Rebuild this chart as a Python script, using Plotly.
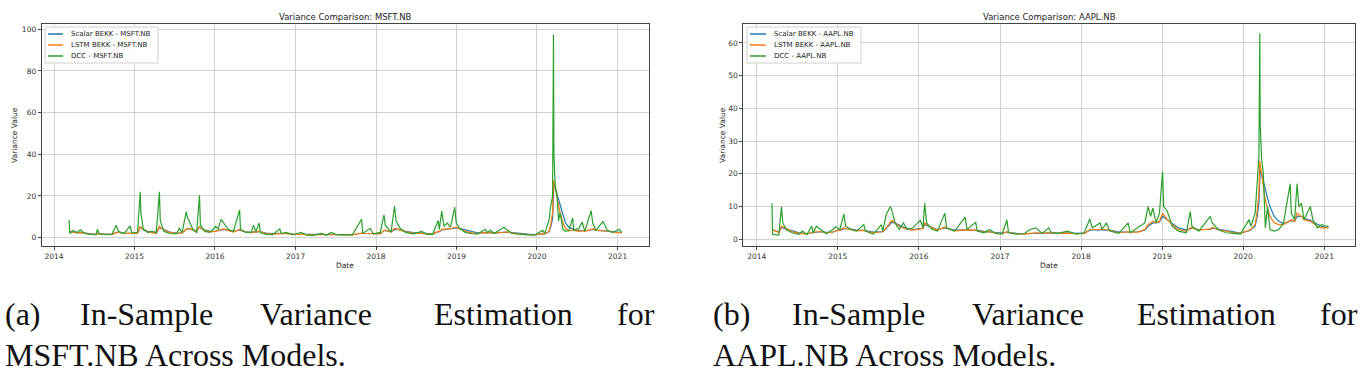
import plotly.graph_objects as go

# ---------------- data: MSFT.NB ----------------
dates_msft = [
    "2014-03-10", "2014-03-14", "2014-03-28", "2014-04-15", "2014-05-01", "2014-05-20", "2014-06-15",
    "2014-07-10", "2014-07-17", "2014-07-25", "2014-08-20", "2014-09-20", "2014-10-10", "2014-10-20",
    "2014-11-15", "2014-12-12", "2014-12-20", "2015-01-15", "2015-01-27", "2015-01-30", "2015-02-10",
    "2015-03-01", "2015-03-20", "2015-04-10", "2015-04-24", "2015-04-28", "2015-05-15", "2015-06-10",
    "2015-07-10", "2015-07-24", "2015-08-05", "2015-08-24", "2015-08-28", "2015-09-10", "2015-09-25",
    "2015-10-10", "2015-10-23", "2015-10-27", "2015-11-15", "2015-12-10", "2016-01-05", "2016-01-15",
    "2016-01-29", "2016-02-10", "2016-03-01", "2016-03-25", "2016-04-22", "2016-04-26", "2016-05-20",
    "2016-06-15", "2016-06-24", "2016-07-05", "2016-07-20", "2016-07-25", "2016-08-20", "2016-09-20",
    "2016-10-21", "2016-10-28", "2016-11-20", "2016-12-20", "2017-01-27", "2017-02-20", "2017-03-20",
    "2017-04-28", "2017-05-20", "2017-06-12", "2017-07-10", "2017-08-10", "2017-09-15", "2017-10-27",
    "2017-11-02", "2017-12-05", "2017-12-20", "2018-01-20", "2018-02-06", "2018-02-12", "2018-03-10",
    "2018-03-26", "2018-04-02", "2018-04-20", "2018-05-15", "2018-06-20", "2018-07-27", "2018-08-20",
    "2018-09-15", "2018-10-10", "2018-10-15", "2018-10-26", "2018-11-05", "2018-11-20", "2018-12-05",
    "2018-12-24", "2018-12-31", "2019-01-15", "2019-02-10", "2019-03-10", "2019-04-05", "2019-05-13",
    "2019-05-20", "2019-06-05", "2019-06-20", "2019-08-05", "2019-08-15", "2019-09-10", "2019-10-10",
    "2019-11-20", "2019-12-20", "2020-01-27", "2020-02-05", "2020-02-24", "2020-03-03", "2020-03-12",
    "2020-03-16", "2020-03-18", "2020-03-24", "2020-04-01", "2020-04-08", "2020-04-15", "2020-04-28",
    "2020-05-10", "2020-05-25", "2020-06-11", "2020-06-16", "2020-07-10", "2020-07-24", "2020-08-05",
    "2020-09-03", "2020-09-10", "2020-09-25", "2020-10-26", "2020-10-30", "2020-11-15", "2020-12-10",
    "2021-01-08", "2021-01-20",
]
dcc_msft = [
    8.5, 2.0, 3.5, 2.5, 3.8, 2.0, 1.6,
    1.4, 4.0, 1.8, 1.4, 1.6, 6.0, 3.0,
    2.0, 5.6, 2.2, 2.6, 22.0, 12.0, 4.0,
    2.5, 3.0, 2.5, 22.0, 8.0, 3.0, 2.0,
    1.8, 4.5, 2.5, 12.5, 10.0, 7.0, 3.5,
    2.5, 20.5, 6.0, 3.0, 2.5, 5.5, 4.0,
    8.8, 7.0, 4.0, 3.0, 13.3, 4.0, 2.5,
    2.6, 6.0, 3.0, 7.0, 2.5, 1.6, 1.5,
    4.2, 2.0, 2.5, 1.4, 2.5, 1.2, 1.1,
    2.0, 1.1, 2.5, 1.3, 1.5, 1.2, 8.8,
    2.0, 4.5, 1.8, 2.5, 10.9, 6.0, 2.5,
    15.2, 8.0, 4.5, 2.5, 1.8, 3.0, 1.6,
    1.6, 8.2, 4.0, 12.8, 5.5, 7.0, 5.0,
    14.6, 7.0, 4.5, 2.5, 2.0, 1.7, 4.0,
    2.5, 3.5, 2.0, 5.0, 4.0, 2.0, 1.6,
    1.3, 1.2, 3.5, 2.0, 8.0, 15.0, 20.0,
    97.5, 40.0, 25.0, 20.0, 8.0, 12.0, 4.0,
    3.0, 3.5, 9.5, 3.5, 4.5, 7.5, 3.0,
    13.0, 7.0, 3.5, 7.7, 7.0, 3.5, 2.5,
    4.0, 2.5,
]
lstm_msft = [
    3.0, 2.8, 2.6, 2.3, 2.4, 2.0, 1.7,
    1.5, 2.0, 1.8, 1.5, 1.5, 2.5, 2.6,
    2.0, 2.4, 2.2, 2.1, 5.5, 5.0, 3.8,
    2.8, 2.3, 2.1, 5.5, 5.0, 3.5, 2.5,
    2.0, 2.3, 2.2, 4.0, 4.5, 4.3, 3.5,
    3.0, 5.5, 4.8, 3.5, 2.8, 3.0, 3.5,
    4.0, 4.2, 3.5, 2.7, 4.0, 3.6, 2.7,
    2.3, 2.8, 2.7, 3.0, 2.8, 2.0, 1.7,
    2.0, 1.9, 1.9, 1.6, 1.6, 1.4, 1.3,
    1.4, 1.3, 1.5, 1.4, 1.4, 1.3, 2.2,
    2.0, 2.0, 1.8, 1.8, 3.5, 3.6, 2.8,
    4.5, 4.4, 3.6, 2.8, 2.2, 2.1, 1.8,
    1.7, 3.0, 3.0, 4.0, 4.0, 4.2, 4.3,
    5.0, 5.0, 4.2, 3.0, 2.4, 2.0, 2.4,
    2.4, 2.5, 2.2, 2.6, 2.8, 2.3, 1.8,
    1.5, 1.4, 1.8, 1.8, 3.0, 6.0, 12.0,
    27.5, 27.0, 24.0, 19.0, 15.0, 12.0, 7.0,
    4.5, 3.2, 3.8, 3.5, 3.0, 3.3, 3.0,
    4.0, 4.2, 3.5, 3.3, 3.6, 3.2, 2.6,
    2.4, 2.3,
]
scalar_msft = [
    3.0, 2.9, 2.7, 2.4, 2.5, 2.1, 1.8,
    1.6, 2.0, 1.8, 1.6, 1.6, 2.4, 2.6,
    2.1, 2.3, 2.3, 2.2, 5.0, 4.8, 3.9,
    3.0, 2.5, 2.3, 4.8, 4.6, 3.6, 2.7,
    2.2, 2.3, 2.3, 4.0, 4.3, 4.2, 3.6,
    3.2, 5.0, 4.6, 3.7, 3.0, 3.1, 3.4,
    3.8, 4.0, 3.5, 2.9, 3.8, 3.5, 2.8,
    2.5, 2.8, 2.7, 3.0, 2.8, 2.2, 1.9,
    2.1, 2.0, 2.0, 1.7, 1.7, 1.5, 1.4,
    1.5, 1.4, 1.6, 1.5, 1.5, 1.4, 2.1,
    2.0, 2.0, 1.9, 1.9, 3.3, 3.4, 2.9,
    4.0, 4.2, 3.7, 3.0, 2.4, 2.2, 1.9,
    1.8, 2.8, 2.9, 3.7, 3.8, 4.0, 4.2,
    4.6, 4.8, 4.4, 3.4, 2.7, 2.3, 2.4,
    2.5, 2.5, 2.3, 2.5, 2.7, 2.4, 2.0,
    1.7, 1.5, 1.8, 1.8, 2.8, 5.0, 9.0,
    22.0, 25.0, 24.0, 21.0, 18.0, 15.0, 11.0,
    7.0, 5.0, 4.2, 4.0, 3.5, 3.4, 3.2,
    3.8, 4.0, 3.6, 3.2, 3.4, 3.3, 2.8,
    2.5, 2.4,
]

# ---------------- data: AAPL.NB ----------------
dates_aapl = [
    "2014-03-10", "2014-03-13", "2014-03-25", "2014-04-10", "2014-04-22", "2014-04-28", "2014-05-15",
    "2014-06-10", "2014-07-10", "2014-07-25", "2014-08-15", "2014-09-05", "2014-09-12", "2014-09-26",
    "2014-10-15", "2014-11-10", "2014-12-10", "2014-12-22", "2015-01-10", "2015-01-28", "2015-02-05",
    "2015-03-01", "2015-03-25", "2015-04-28", "2015-05-05", "2015-06-10", "2015-07-16", "2015-07-22",
    "2015-08-07", "2015-08-25", "2015-09-01", "2015-09-15", "2015-10-05", "2015-10-23", "2015-11-10",
    "2015-12-05", "2016-01-07", "2016-01-20", "2016-01-27", "2016-02-05", "2016-03-01", "2016-03-25",
    "2016-04-27", "2016-05-05", "2016-06-10", "2016-07-27", "2016-08-05", "2016-09-13", "2016-09-20",
    "2016-10-20", "2016-11-14", "2016-12-10", "2017-01-10", "2017-02-01", "2017-02-08", "2017-03-15",
    "2017-04-20", "2017-05-15", "2017-06-12", "2017-07-10", "2017-08-08", "2017-08-20", "2017-09-20",
    "2017-10-31", "2017-12-10", "2018-01-15", "2018-02-09", "2018-02-20", "2018-03-28", "2018-04-05",
    "2018-04-25", "2018-05-10", "2018-06-20", "2018-08-01", "2018-08-10", "2018-09-15", "2018-10-15",
    "2018-10-30", "2018-11-10", "2018-11-20", "2018-12-05", "2018-12-20", "2019-01-03", "2019-01-08",
    "2019-01-25", "2019-02-15", "2019-03-15", "2019-04-20", "2019-05-08", "2019-05-15", "2019-06-15",
    "2019-08-06", "2019-08-15", "2019-09-10", "2019-10-15", "2019-11-20", "2019-12-20", "2020-01-28",
    "2020-02-05", "2020-02-24", "2020-03-03", "2020-03-12", "2020-03-16", "2020-03-18", "2020-03-24",
    "2020-04-01", "2020-04-10", "2020-04-20", "2020-05-01", "2020-05-20", "2020-06-10", "2020-07-01",
    "2020-07-31", "2020-08-05", "2020-08-20", "2020-08-31", "2020-09-08", "2020-09-20", "2020-10-01",
    "2020-10-30", "2020-11-10", "2020-12-01", "2020-12-20", "2021-01-08", "2021-01-20",
]
dcc_aapl = [
    11.0, 1.5, 1.4, 1.3, 10.0, 5.0, 2.8,
    2.0, 1.5, 2.5, 1.5, 4.0, 2.0, 4.0,
    3.0, 1.7, 3.0, 3.8, 3.0, 7.7, 4.0,
    3.0, 2.5, 4.5, 2.5, 1.6, 4.5, 2.5,
    7.5, 10.0, 9.0, 5.0, 3.0, 5.0, 3.0,
    3.5, 5.8, 3.5, 11.0, 5.0, 3.0, 2.5,
    8.0, 3.5, 2.5, 6.8, 3.0, 5.2, 2.5,
    2.0, 3.0, 1.8, 1.6, 5.9, 2.0, 1.6,
    1.7, 3.0, 3.5, 1.8, 3.5, 2.0, 1.8,
    2.5, 1.6, 2.0, 6.2, 3.5, 5.0, 3.0,
    5.0, 2.5, 1.8, 5.0, 2.0, 3.5, 5.0,
    10.0, 7.0, 9.5, 5.0, 8.0, 20.7, 10.0,
    8.5, 4.0, 2.5, 2.0, 8.5, 4.0, 2.5,
    7.0, 5.0, 3.0, 2.0, 1.8, 1.6, 6.0,
    4.0, 8.0, 18.0, 25.0, 63.0, 35.0, 25.0,
    20.0, 3.5, 10.0, 3.0, 2.5, 3.0, 5.0,
    17.0, 8.0, 6.0, 17.0, 10.0, 11.0, 6.0,
    10.0, 6.0, 3.5, 4.5, 4.0, 4.0,
]
lstm_aapl = [
    3.2, 2.9, 2.5, 2.1, 4.0, 3.8, 3.0,
    2.3, 1.8, 1.8, 1.6, 2.0, 2.0, 2.3,
    2.3, 2.0, 2.2, 2.6, 2.8, 3.5, 3.4,
    3.0, 2.6, 2.7, 2.5, 2.0, 2.3, 2.3,
    3.5, 5.0, 5.8, 5.0, 4.0, 3.5, 3.0,
    2.8, 3.3, 3.3, 5.0, 4.5, 3.5, 2.8,
    3.8, 3.4, 2.6, 3.0, 2.9, 2.8, 2.6,
    2.2, 2.3, 2.0, 1.7, 2.3, 2.1, 1.7,
    1.6, 1.8, 2.0, 1.8, 2.0, 2.0, 1.8,
    1.9, 1.7, 1.7, 3.0, 3.0, 3.0, 2.8,
    3.0, 2.7, 2.0, 2.3, 2.2, 2.2, 3.0,
    4.5, 5.0, 5.5, 5.0, 5.5, 8.0, 7.5,
    6.0, 4.5, 3.0, 2.4, 3.5, 3.5, 2.8,
    3.2, 3.6, 3.0, 2.4, 2.0, 1.8, 2.8,
    3.0, 4.5, 8.0, 14.0, 24.0, 23.0, 20.0,
    16.0, 12.0, 9.5, 7.0, 5.0, 4.5, 4.5,
    6.0, 6.0, 5.5, 8.0, 7.5, 7.0, 6.0,
    5.5, 5.0, 4.0, 3.5, 3.5, 3.5,
]
scalar_aapl = [
    3.0, 2.9, 2.6, 2.3, 3.5, 3.5, 3.1,
    2.5, 2.0, 1.9, 1.7, 2.0, 2.0, 2.2,
    2.3, 2.1, 2.2, 2.6, 2.8, 3.3, 3.3,
    3.1, 2.8, 2.7, 2.6, 2.2, 2.3, 2.3,
    3.3, 4.5, 5.2, 5.0, 4.2, 3.7, 3.3,
    3.0, 3.3, 3.3, 4.5, 4.3, 3.7, 3.0,
    3.5, 3.4, 2.8, 2.9, 2.9, 2.8, 2.7,
    2.4, 2.3, 2.1, 1.9, 2.2, 2.1, 1.8,
    1.7, 1.8, 2.0, 1.9, 2.0, 2.0, 1.9,
    1.9, 1.8, 1.8, 2.8, 2.9, 2.9, 2.9,
    2.9, 2.8, 2.2, 2.3, 2.3, 2.3, 2.8,
    4.0, 4.5, 5.0, 5.0, 5.3, 7.0, 6.8,
    6.0, 4.8, 3.5, 2.8, 3.3, 3.4, 3.0,
    3.0, 3.4, 3.1, 2.6, 2.2, 1.9, 2.6,
    2.9, 4.0, 6.5, 11.0, 19.0, 21.0, 20.0,
    17.5, 15.0, 12.5, 10.0, 7.0, 5.5, 4.8,
    5.5, 5.7, 5.5, 7.0, 7.0, 7.0, 6.3,
    5.8, 5.3, 4.5, 4.0, 3.6, 3.6,
]

years = ["2014", "2015", "2016", "2017", "2018", "2019", "2020", "2021"]
tick_dates = [y + "-01-01" for y in years]
model_names = ["Scalar BEKK", "LSTM BEKK", "DCC"]

W, H = 1362, 375
COLORS = ["#1f77b4", "#ff7f0e", "#2ca02c"]


def px(x):
    return x / W


def py(y):
    return 1 - y / H


fig = go.Figure()

panels = [
    dict(ticker="MSFT.NB", dates=dates_msft, series=[scalar_msft, lstm_msft, dcc_msft],
         xa="x", ya="y", leg_box=(45, 27, 158, 63), leg_line=(48, 63), leg_text=69),
    dict(ticker="AAPL.NB", dates=dates_aapl, series=[scalar_aapl, lstm_aapl, dcc_aapl],
         xa="x2", ya="y2", leg_box=(747, 27, 861, 63), leg_line=(750, 766), leg_text=772),
]

for p in panels:
    for name, vals, col in zip(model_names, p["series"], COLORS):
        fig.add_trace(go.Scatter(
            x=p["dates"], y=vals, mode="lines", name=f"{name} - {p['ticker']}",
            line=dict(color=col, width=1.2), xaxis=p["xa"], yaxis=p["ya"], showlegend=False,
        ))

axis_common = dict(
    showline=True, mirror=True, linecolor="#444444", linewidth=1,
    ticks="outside", ticklen=3, tickcolor="#444444", tickwidth=1,
    showgrid=True, gridcolor="#d3d3d3", gridwidth=1, zeroline=False,
    tickfont=dict(family="DejaVu Sans", size=7.5, color="#333333"),
)

left_dom = [px(41.7), px(648.7)]
right_dom = [px(743.3), px(1355)]
ydom = [py(246), py(24)]

fig.update_layout(
    width=W, height=H, margin=dict(l=0, r=0, t=0, b=0),
    paper_bgcolor="white", plot_bgcolor="white", showlegend=False,
    xaxis=dict(domain=left_dom, anchor="y", type="date",
               range=["2013-11-06", "2021-05-22"], tickvals=tick_dates, ticktext=years, **axis_common),
    yaxis=dict(domain=ydom, anchor="x", range=[-4.0, 102.5], dtick=20, tick0=0, **axis_common),
    xaxis2=dict(domain=right_dom, anchor="y2", type="date",
                range=["2013-11-01", "2021-05-19"], tickvals=tick_dates, ticktext=years, **axis_common),
    yaxis2=dict(domain=ydom, anchor="x2", range=[-2.05, 65.8], dtick=10, tick0=0, **axis_common),
)

small = dict(family="DejaVu Sans", color="#222222")
annots = []
shapes = []
for dom, p, ylab_x in [(left_dom, panels[0], 14), (right_dom, panels[1], 722)]:
    cx = (dom[0] + dom[1]) / 2
    annots.append(dict(text=f"Variance Comparison: {p['ticker']}", x=cx, y=py(16.5),
                       xref="paper", yref="paper", showarrow=False, xanchor="center", yanchor="middle",
                       font=dict(size=8.5, **small)))
    annots.append(dict(text="Date", x=cx, y=py(265), xref="paper", yref="paper", showarrow=False,
                       xanchor="center", yanchor="middle", font=dict(size=7.5, **small)))
    annots.append(dict(text="Variance Value", x=px(ylab_x), y=py(135), xref="paper", yref="paper",
                       showarrow=False, textangle=-90, xanchor="center", yanchor="middle",
                       font=dict(size=7.5, **small)))
    # legend (matplotlib style)
    x0, y0, x1, y1 = p["leg_box"]
    shapes.append(dict(type="rect", xref="paper", yref="paper", x0=px(x0), x1=px(x1),
                       y0=py(y1), y1=py(y0), line=dict(color="#d0d0d0", width=1),
                       fillcolor="rgba(255,255,255,0.85)", layer="above"))
    for i, (name, col) in enumerate(zip(model_names, COLORS)):
        yy = y0 + 7 + 11 * i
        lx0, lx1 = p["leg_line"]
        shapes.append(dict(type="line", xref="paper", yref="paper", x0=px(lx0), x1=px(lx1),
                           y0=py(yy), y1=py(yy), line=dict(color=col, width=1.5), layer="above"))
        annots.append(dict(text=f"{name} - {p['ticker']}", x=px(p["leg_text"]), y=py(yy),
                           xref="paper", yref="paper", showarrow=False, xanchor="left",
                           yanchor="middle", font=dict(size=7, **small)))

# captions (justified first line, words placed individually)
cap_font = dict(family="Liberation Serif", size=32, color="#111111")
cap_a = [("(a)", 3, "left"), ("In-Sample", 78, "left"), ("Variance", 258, "left"),
         ("Estimation", 432, "left"), ("for", 657, "right")]
cap_b = [("(b)", 711, "left"), ("In-Sample", 790, "left"), ("Variance", 970, "left"),
         ("Estimation", 1135, "left"), ("for", 1360, "right")]
for word, x, anchor in cap_a + cap_b:
    annots.append(dict(text=word, x=px(x), y=py(314), xref="paper", yref="paper", showarrow=False,
                       xanchor=anchor, yanchor="middle", font=cap_font))
annots.append(dict(text="MSFT.NB Across Models.", x=px(3), y=0, xref="paper", yref="paper",
                   showarrow=False, xanchor="left", yanchor="bottom", font=cap_font))
annots.append(dict(text="AAPL.NB Across Models.", x=px(711), y=0, xref="paper", yref="paper",
                   showarrow=False, xanchor="left", yanchor="bottom", font=cap_font))

fig.update_layout(annotations=annots, shapes=shapes)

fig.write_html(
    "out.html",
    config={"displayModeBar": False},
    post_script="document.body.style.margin='0';document.body.style.overflow='hidden';",
)
